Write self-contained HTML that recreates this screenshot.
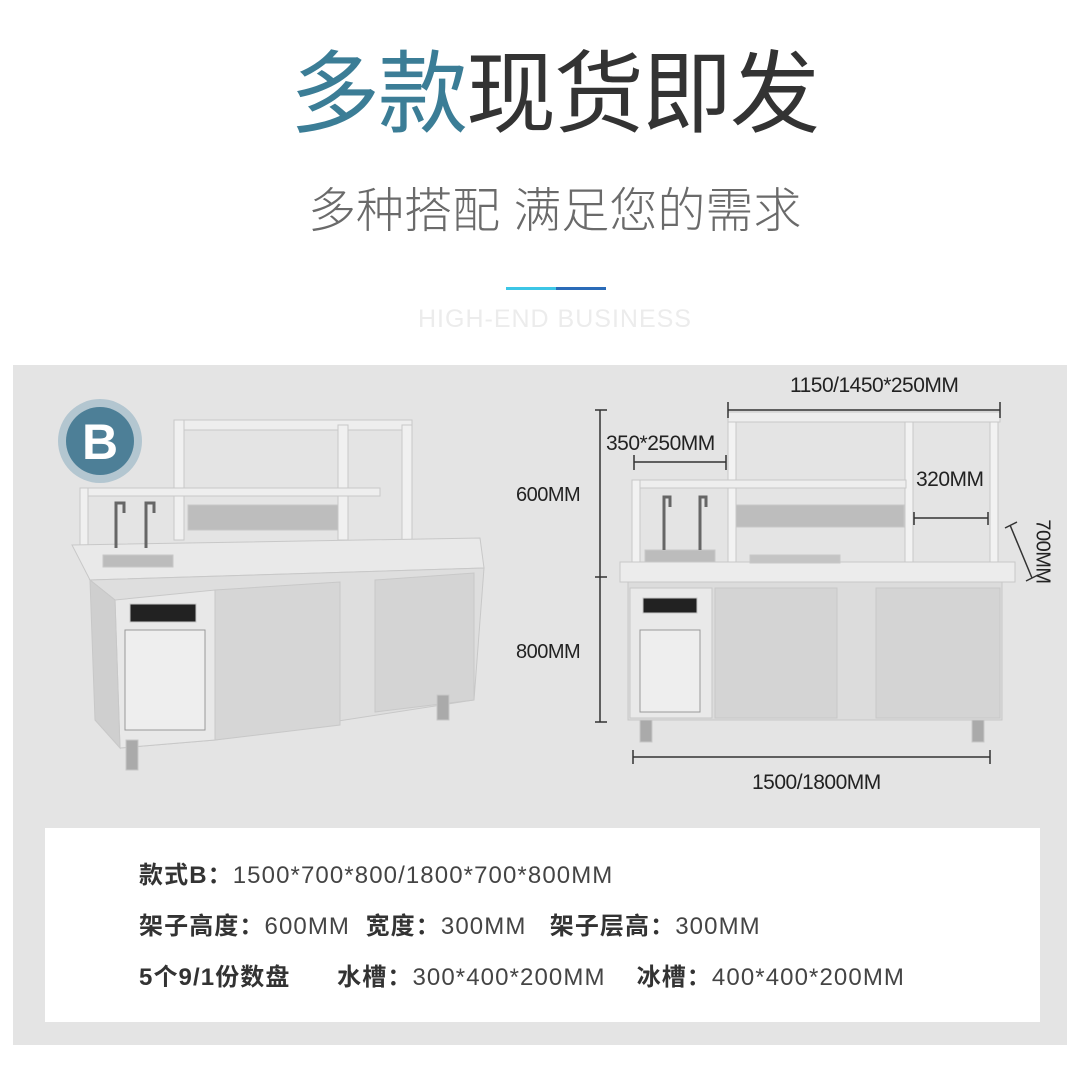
<!DOCTYPE html>
<html><head><meta charset="utf-8"><style>
body{margin:0;width:1080px;height:1080px;position:relative;background:#fff;overflow:hidden;font-family:"Liberation Sans","Noto Sans CJK SC",sans-serif}
.t{position:absolute;white-space:nowrap}
.d{font-size:20px;color:#222;letter-spacing:-0.5px}
.b{font-size:24px;line-height:30px;color:#444;letter-spacing:1.1px}
.b b{color:#333}
</style></head><body>
<div class="t" style="left:290px;top:40px;font-size:90px;line-height:110px;color:#333;letter-spacing:-2px"><span style="color:#3b7d96">多款</span>现货即发</div>
<div class="t" style="left:308px;top:182px;font-size:48px;line-height:60px;color:#6a6a6a;font-weight:300">多种搭配 满足您的需求</div>
<div style="position:absolute;left:506px;top:287px;width:50px;height:3px;background:#3cc6e6"></div>
<div style="position:absolute;left:556px;top:287px;width:50px;height:3px;background:#2a6bb8"></div>
<div class="t" style="left:418px;top:304px;font-size:25px;line-height:30px;color:#ececec;letter-spacing:1px">HIGH-END BUSINESS</div>
<div style="position:absolute;left:13px;top:365px;width:1054px;height:680px;background:#e4e4e4"></div>
<svg style="position:absolute;left:0;top:0" width="1080" height="1080">
<circle cx="100" cy="441" r="42" fill="#b3c6d0"/>
<circle cx="100" cy="441" r="34" fill="#4d7f97"/>
<text x="100" y="459" font-size="50" font-weight="bold" fill="#fff" text-anchor="middle" font-family="Liberation Sans">B</text>
<g stroke="#c8c8c8" stroke-width="1">
<rect x="174" y="420" width="238" height="10" fill="#eee"/>
<rect x="174" y="420" width="10" height="120" fill="#f0f0f0"/>
<rect x="338" y="425" width="10" height="115" fill="#f0f0f0"/>
<rect x="402" y="425" width="10" height="115" fill="#f0f0f0"/>
<rect x="80" y="488" width="300" height="8" fill="#eee"/>
<rect x="80" y="488" width="8" height="60" fill="#f0f0f0"/>
<rect x="188" y="505" width="150" height="25" fill="#bdbdbd"/>
<polygon points="72,545 480,538 484,568 90,580" fill="#e9e9e9"/>
<polygon points="90,580 484,568 474,700 215,740 120,748 115,600" fill="#dedede"/>
<polygon points="115,600 215,590 215,740 120,748" fill="#e8e8e8"/>
<polygon points="215,590 340,582 340,725 215,740" fill="#d6d6d6"/>
<polygon points="375,580 474,573 474,700 375,712" fill="#d4d4d4"/>
<polygon points="90,580 115,600 120,748 95,720" fill="#cfcfcf"/>
<rect x="103" y="555" width="70" height="12" fill="#bcbcbc"/>
<rect x="130" y="604" width="66" height="18" fill="#222"/>
<rect x="125" y="630" width="80" height="100" fill="#eee" stroke="#999"/>
<rect x="126" y="740" width="12" height="30" fill="#aaa"/>
<rect x="437" y="695" width="12" height="25" fill="#aaa"/>
</g>
<g stroke="#666" stroke-width="3" fill="none"><path d="M116 548V503h8v10"/><path d="M146 548V503h8v10"/></g>
<g stroke="#c8c8c8" stroke-width="1">
<rect x="728" y="412" width="272" height="10" fill="#eee"/>
<rect x="728" y="422" width="8" height="145" fill="#f2f2f2"/>
<rect x="905" y="422" width="8" height="145" fill="#f2f2f2"/>
<rect x="990" y="422" width="8" height="145" fill="#f2f2f2"/>
<rect x="632" y="480" width="274" height="8" fill="#eee"/>
<rect x="632" y="480" width="8" height="87" fill="#f2f2f2"/>
<rect x="736" y="505" width="168" height="22" fill="#bdbdbd"/>
<rect x="620" y="562" width="395" height="20" fill="#ececec"/>
<rect x="628" y="582" width="374" height="138" fill="#dcdcdc"/>
<rect x="630" y="588" width="82" height="130" fill="#e9e9e9"/>
<rect x="715" y="588" width="122" height="130" fill="#d4d4d4"/>
<rect x="876" y="588" width="124" height="130" fill="#d4d4d4"/>
<rect x="643" y="598" width="54" height="15" fill="#222"/>
<rect x="640" y="630" width="60" height="82" fill="#eee" stroke="#999"/>
<rect x="645" y="550" width="70" height="12" fill="#bcbcbc"/>
<rect x="750" y="555" width="90" height="8" fill="#c4c4c4"/>
<rect x="640" y="720" width="12" height="22" fill="#aaa"/>
<rect x="972" y="720" width="12" height="22" fill="#aaa"/>
</g>
<g stroke="#666" stroke-width="3" fill="none"><path d="M664 550V497h6v10"/><path d="M700 550V497h6v10"/></g>
<g stroke="#333" stroke-width="1.5" fill="none">
<path d="M600 410V722M595 410h12M595 577h12M595 722h12"/>
<path d="M728 402V418M728 410H1000M1000 402V418"/>
<path d="M634 455V470M634 462H726M726 455V470"/>
<path d="M914 512V525M914 518H988M988 512V525"/>
<path d="M1010 525L1032 578M1005 528l12-6M1026 581l12-6"/>
<path d="M633 750V764M633 757H990M990 750V764"/>
</g>
</svg>
<div class="t d" style="left:790px;top:374px;font-size:21px">1150/1450*250MM</div>
<div class="t d" style="left:606px;top:432px;font-size:21px">350*250MM</div>
<div class="t d" style="left:916px;top:468px;font-size:21px">320MM</div>
<div class="t d" style="left:516px;top:484px;">600MM</div>
<div class="t d" style="left:516px;top:641px;">800MM</div>
<div class="t d" style="left:752px;top:771px;font-size:21px">1500/1800MM</div>
<div class="t d" style="left:1010px;top:540px;transform:rotate(90deg);transform-origin:center">700MM</div>
<div style="position:absolute;left:45px;top:828px;width:995px;height:194px;background:#fff"></div>
<div class="t b" style="left:139px;top:861px"><b>款式B：</b>1500*700*800/1800*700*800MM</div>
<div class="t b" style="left:139px;top:912px"><b>架子高度：</b>600MM&nbsp;&nbsp;<b>宽度：</b>300MM&nbsp;&nbsp;&nbsp;<b>架子层高：</b>300MM</div>
<div class="t b" style="left:139px;top:963px"><b>5个9/1份数盘</b>&nbsp;&nbsp;&nbsp;&nbsp;&nbsp;&nbsp;<b>水槽：</b>300*400*200MM&nbsp;&nbsp;&nbsp;&nbsp;<b>冰槽：</b>400*400*200MM</div>
</body></html>
